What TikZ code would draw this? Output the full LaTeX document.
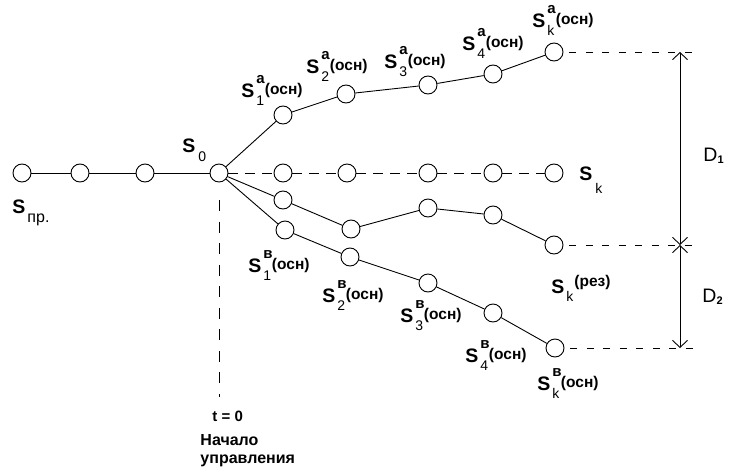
\documentclass[tikz,border=0pt]{standalone}
\usepackage{fontspec}
\setmainfont{Liberation Sans}
\usetikzlibrary{arrows.meta}
\usetikzlibrary{positioning}

\newcommand{\fS}{\fontsize{19.5}{20}\selectfont\bfseries}
\newcommand{\fSup}{\fontsize{15}{15}\selectfont\bfseries}
\newcommand{\fSub}{\fontsize{14}{14}\selectfont}
\newcommand{\fTail}{\fontsize{15.5}{16}\selectfont\bfseries}
\newcommand{\Slbl}[3]{{\fS S}\kern2pt\makebox[8pt][l]{\rlap{\raisebox{14pt}{\fSup #1}}\raisebox{-8pt}{\fSub #2}}\kern0.5pt\raisebox{3pt}{\fTail #3}}

\begin{document}
\begin{tikzpicture}[
  x=1pt, y=-1pt,
  > = {Straight Barb[length=7pt,width=15pt]},
  line width=0.9pt,
  state/.style = {draw,circle,fill=white,minimum size=18pt,inner sep=0pt},
  txt/.style = {anchor=base west,inner sep=0pt},
  mdash/.style = {dash pattern=on 10pt off 7pt},
  hdash/.style = {dash pattern=on 7pt off 9.5pt},
  vdash/.style = {dash pattern=on 11pt off 10.5pt}
  ]
  \useasboundingbox (0,0) rectangle (729,474);

	% states before the start
	\node[state] (p1) at (22,173) {};
	\node[state] (p2) at (80,173) {};
	\node[state] (p3) at (145,173) {};
	\node[state] (s0) at (219,173) {};

	% branch a
	\node[state] (a1) at (283,115) {};
	\node[state] (a2) at (346,94) {};
	\node[state] (a3) at (428,85) {};
	\node[state] (a4) at (493,74) {};
	\node[state] (ak) at (554,52) {};

	% no control
	\node[state] (m1) at (283,173) {};
	\node[state] (m2) at (347,173) {};
	\node[state] (m3) at (428,173) {};
	\node[state] (m4) at (493,173) {};
	\node[state] (mk) at (554,173) {};

	% reserve
	\node[state] (r1) at (283,200) {};
	\node[state] (r2) at (351,229) {};
	\node[state] (r3) at (428,208) {};
	\node[state] (r4) at (493,215) {};
	\node[state] (rk) at (554,245) {};

	% branch b
	\node[state] (b1) at (285,230) {};
	\node[state] (b2) at (350,257) {};
	\node[state] (b3) at (428,283) {};
	\node[state] (b4) at (493,313) {};
	\node[state] (bk) at (555,348) {};

	\draw (p1) -- (p2) -- (p3) -- (s0);
	\draw (s0) -- (a1) -- (a2) -- (a3) -- (a4) -- (ak);
	\draw[mdash] (s0) -- (m1) -- (m2) -- (m3) -- (m4) -- (mk);
	\draw (s0) -- (r1) -- (r2) -- (r3) -- (r4) -- (rk);
	\draw (s0) -- (b1) -- (b2) -- (b3) -- (b4) -- (bk);

	% distances
	\coordinate (xd) at (680,0);
	\coordinate (xe) at (700,0);
	\draw[hdash, shorten <=6pt] (ak) -- (ak -| xe);
	\draw[hdash, shorten <=6pt] (rk) -- (rk -| xe);
	\draw[hdash, shorten <=6pt] (bk) -- (bk -| xe);
	\draw[<->] (ak -| xd) -- (rk -| xd);
	\draw[<->] (rk -| xd) -- (bk -| xd);
	\node[txt] (ld1) at (703,161) {{\fontsize{19.5}{20}\selectfont D}\raisebox{-2pt}{\fontsize{11}{11}\selectfont\bfseries 1}};
	\node[txt] (ld2) at (702,302) {{\fontsize{19.5}{20}\selectfont D}\raisebox{-2pt}{\fontsize{11}{11}\selectfont\bfseries 2}};

	% start of control
	\node[txt] (lt0) at (212,421) {\fontsize{15}{15}\selectfont\bfseries t = 0};
	\node[txt, align=left, font=\fontsize{16}{18}\selectfont\bfseries] (lstart) at (200,463) {Начало\\управления};
	\draw[vdash, shorten <=18pt, shorten >=13pt] (s0) -- (s0 |- lt0.north);

	% labels
	\node[txt] (lpr) at (12,213) {{\fS S}\kern2pt\raisebox{-9pt}{\fontsize{16}{16}\selectfont пр.}};
	\node[txt] (ls0) at (182,152) {{\fS S}\kern3pt\raisebox{-9pt}{\fSub 0}};
	\node[txt] (la1) at (241,97) {\Slbl{а}{1}{(осн)}};
	\node[txt] (la2) at (306,73) {\Slbl{а}{2}{(осн)}};
	\node[txt] (la3) at (384,68) {\Slbl{а}{3}{(осн)}};
	\node[txt] (la4) at (462,50) {\Slbl{а}{4}{(осн)}};
	\node[txt] (lak) at (532,27) {\Slbl{а}{k}{(осн)}};
	\node[txt] (lmk) at (579,180) {{\fS S}\kern3pt\raisebox{-13pt}{\fSub k}};
	\node[txt] (lrk) at (551,293) {{\fS S}\kern2pt\raisebox{-8pt}{\fSub k}\kern1pt\raisebox{7pt}{\fTail (рез)}};
	\node[txt] (lb1) at (248,272) {\Slbl{в}{1}{(осн)}};
	\node[txt] (lb2) at (322,302) {\Slbl{в}{2}{(осн)}};
	\node[txt] (lb3) at (400,322) {\Slbl{в}{3}{(осн)}};
	\node[txt] (lb4) at (465,362) {\Slbl{в}{4}{(осн)}};
	\node[txt] (lbk) at (537,390) {\Slbl{в}{k}{(осн)}};

\end{tikzpicture}
\end{document}
